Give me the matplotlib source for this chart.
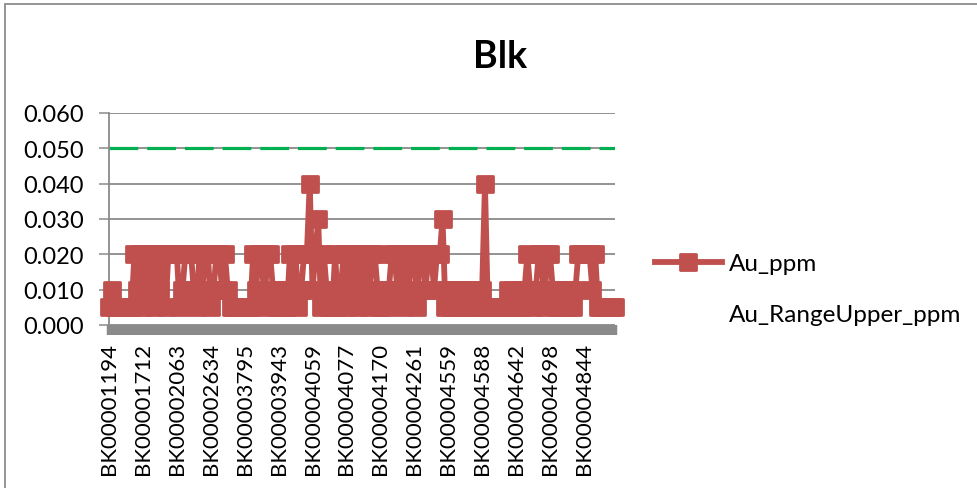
import matplotlib.pyplot as plt
from matplotlib.lines import Line2D
from matplotlib.markers import MarkerStyle
from matplotlib.patches import Rectangle
from matplotlib.ticker import FixedLocator, FormatStrFormatter

plt.rcParams['font.family'] = ['Lato', 'DejaVu Sans']

# sample ids printed under the axis (every 12th sample)
sample_labels = ["BK00001194", "BK00001712", "BK00002063", "BK00002634", "BK00003795",
                 "BK00003943", "BK00004059", "BK00004077", "BK00004170", "BK00004261",
                 "BK00004559", "BK00004588", "BK00004642", "BK00004698", "BK00004844"]
label_step = 12

# blank assays, one row per labelled block of 12 samples
au_ppm = [
    0.005, 0.010, 0.005, 0.005, 0.005, 0.005, 0.005, 0.005, 0.005, 0.020, 0.010, 0.020,
    0.005, 0.020, 0.010, 0.020, 0.005, 0.020, 0.010, 0.020, 0.005, 0.020, 0.020, 0.020,
    0.020, 0.005, 0.010, 0.020, 0.020, 0.020, 0.010, 0.005, 0.020, 0.010, 0.020, 0.020,
    0.005, 0.010, 0.020, 0.020, 0.010, 0.020, 0.010, 0.005, 0.005, 0.005, 0.005, 0.005,
    0.005, 0.005, 0.005, 0.020, 0.010, 0.020, 0.020, 0.005, 0.020, 0.020, 0.010, 0.005,
    0.010, 0.005, 0.010, 0.005, 0.020, 0.010, 0.020, 0.005, 0.010, 0.020, 0.020, 0.040,
    0.010, 0.020, 0.030, 0.005, 0.020, 0.010, 0.005, 0.005, 0.020, 0.005, 0.010, 0.020,
    0.005, 0.020, 0.010, 0.020, 0.005, 0.020, 0.010, 0.020, 0.005, 0.020, 0.020, 0.010,
    0.005, 0.010, 0.005, 0.010, 0.020, 0.020, 0.010, 0.020, 0.005, 0.020, 0.010, 0.020,
    0.020, 0.005, 0.020, 0.020, 0.010, 0.020, 0.020, 0.010, 0.020, 0.020, 0.030, 0.005,
    0.010, 0.005, 0.010, 0.010, 0.005, 0.010, 0.005, 0.010, 0.005, 0.010, 0.010, 0.005,
    0.010, 0.040, 0.005, 0.005, 0.005, 0.005, 0.005, 0.005, 0.005, 0.010, 0.005, 0.010,
    0.005, 0.010, 0.005, 0.010, 0.020, 0.010, 0.005, 0.010, 0.020, 0.020, 0.005, 0.020,
    0.020, 0.010, 0.005, 0.010, 0.005, 0.010, 0.005, 0.010, 0.005, 0.010, 0.020, 0.020,
    0.020, 0.020, 0.020, 0.010, 0.020, 0.005, 0.005, 0.005, 0.005, 0.005, 0.005, 0.005,
]
range_upper_ppm = [0.050] * len(au_ppm)
y_ticks = [0.000, 0.010, 0.020, 0.030, 0.040, 0.050, 0.060]

red = "#C0504D"
green = "#00B050"
grey = "#8A8A8A"

fig = plt.figure(figsize=(9.78, 4.89), dpi=100)
W, H = 978, 489
ax = fig.add_axes([109 / W, (H - 326) / H, (615 - 109) / W, (326 - 114) / H])

x = list(range(len(au_ppm)))

ax.plot(x, range_upper_ppm, color=green, lw=2.3, dashes=(9, 2.8), zorder=2)
sq = MarkerStyle("s", joinstyle="round")
ax.plot(x, au_ppm, color=red, lw=4.2, marker=sq, ms=11.8, mew=2.0, mec=red, mfc=red,
        solid_joinstyle="round", solid_capstyle="round", clip_on=False, zorder=3)

ax.set_xlim(0, len(au_ppm) - 1)
ax.set_ylim(0, 0.06)
ax.set_yticks(y_ticks)
ax.yaxis.set_major_formatter(FormatStrFormatter("%.3f"))
ax.grid(axis="y", color=grey, lw=1.3)
ax.set_axisbelow(True)

ax.set_xticks([i * label_step for i in range(len(sample_labels))])
ax.set_xticklabels(sample_labels, rotation=90, fontsize=16)
ax.xaxis.set_minor_locator(FixedLocator(x))
ax.tick_params(axis="x", which="both", length=7, width=3.2, color=grey, pad=5)
ax.tick_params(axis="y", length=7, width=1.1, color=grey, pad=11, labelsize=17)

for side in ("top", "right", "bottom"):
    ax.spines[side].set_visible(False)
ax.spines["left"].set_color(grey)
ax.spines["left"].set_linewidth(1.3)

fig.text(500 / W, 1 - 57 / H, "Blk", ha="center", va="center", fontsize=27, fontweight="bold")

handles = [
    Line2D([], [], color=red, lw=4.2, marker=sq, ms=11.8, mew=2.0, mec=red, mfc=red),
    Line2D([], [], lw=0, marker=None),
]
fig.legend(handles, ["Au_ppm", "Au_RangeUpper_ppm"], loc="upper left",
           bbox_to_anchor=(655 / W, 1 - 254 / H), frameon=False, fontsize=17.5,
           handlelength=2.75, handletextpad=0.3, labelspacing=1.25, borderpad=0, borderaxespad=0)

# outer chart frame
fig.add_artist(Rectangle((5 / W, -0.2), 1.2, 1.2 - 5 / H, transform=fig.transFigure,
                         fill=False, edgecolor="#8C8C8C", lw=1.3))

fig.savefig("out.png", dpi=100)
